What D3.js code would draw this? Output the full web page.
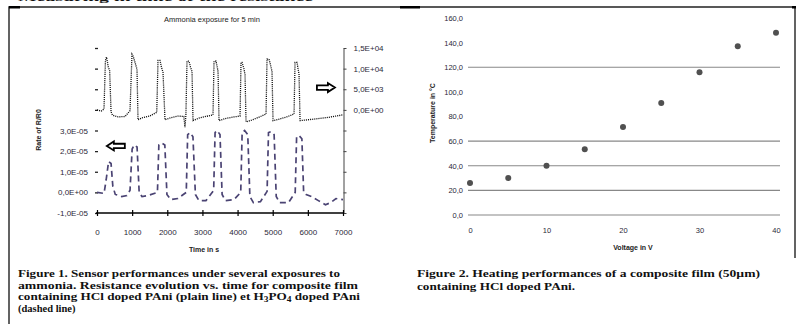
<!DOCTYPE html>
<html lang="en">
<head>
<meta charset="utf-8">
<title>Sensor and heating performances</title>
<script src="https://cdn.jsdelivr.net/npm/d3@7"></script>
<style>
  body { margin: 0; background: #fff; }
  svg { display: block; font-family: "Liberation Sans", sans-serif; }
  .tick text { font-size: 7.5px; fill: #2b2838; }
  .caption { font-family: "Liberation Serif", serif; font-weight: bold; font-size: 10.5px; fill: #111; }
  .atitle { font-size: 7px; font-weight: bold; fill: #222; }
</style>
</head>
<body>
<script>
// ---- Figure 1 data: time (s) vs value ----
// HCl doped PAni, right axis (plain line)
var hclSeries = [
  [0, 0], [120, -300], [199, 200], [240, 12000], [270, 12800], [300, 11500], [313, 10600], [360, 9500],
  [400, -500], [440, -1300], [600, -1700], [800, -1600], [939, -200],
  [996, 13500], [1030, 13000], [1100, 11000], [1138, 9800], [1167, -2400], [1300, -1900], [1500, -1500], [1700, -600],
  [1736, 12000], [1793, 12000], [1830, 10500], [1878, 9100], [1935, -2400], [2100, -1900], [2300, -1500], [2470, -1600], [2504, -4200], [2530, -1200],
  [2561, 11800], [2618, 11800], [2660, 10400], [2704, 9300], [2732, -2600], [2900, -2000], [3100, -1600], [3301, -1200],
  [3330, 11800], [3387, 11800], [3420, 10400], [3444, 9300], [3472, -2600], [3650, -2100], [3900, -1700], [4070, -1500],
  [4098, 11500], [4127, 11500], [4180, 10000], [4212, 8600], [4241, -2900], [4400, -2500], [4600, -1800], [4810, -1000],
  [4838, 12300], [4895, 12300], [4940, 10800], [4980, 9300], [5009, -2600], [5200, -2200], [5400, -1700], [5607, -1000],
  [5635, 11500], [5692, 11500], [5720, 10000], [5749, 8600], [5778, -2600], [6000, -2400], [6300, -2100], [6600, -1800],
  [6800, -1500], [7000, -1200]
];
// H3PO4 doped PAni, left axis (dashed line)
var h3po4Series = [
  [0, 0], [200, -0.05e-5], [260, 0.6e-5], [330, 1.5e-5], [400, 1.4e-5], [450, 0.3e-5], [520, -0.1e-5], [700, -0.2e-5], [850, -0.15e-5], [940, 0.1e-5],
  [1000, 2.1e-5], [1060, 2.3e-5], [1140, 2.2e-5], [1200, 0], [1280, -0.2e-5], [1450, -0.15e-5], [1720, 0],
  [1760, 2.3e-5], [1830, 2.4e-5], [1930, 2.3e-5], [1990, -0.1e-5], [2100, -0.35e-5], [2300, -0.3e-5], [2540, 0],
  [2580, 2.8e-5], [2650, 2.9e-5], [2730, 2.7e-5], [2800, -0.1e-5], [2900, -0.4e-5], [3100, -0.4e-5], [3320, 0.1e-5],
  [3360, 2.9e-5], [3420, 3.0e-5], [3500, 2.8e-5], [3560, -0.1e-5], [3650, -0.4e-5], [3900, -0.35e-5], [4090, 0],
  [4130, 2.9e-5], [4200, 3.0e-5], [4290, 2.8e-5], [4350, -0.2e-5], [4450, -0.5e-5], [4650, -0.45e-5], [4840, 0.05e-5],
  [4880, 2.9e-5], [4960, 2.95e-5], [5040, 2.8e-5], [5100, -0.2e-5], [5200, -0.5e-5], [5450, -0.5e-5], [5640, 0],
  [5680, 2.7e-5], [5750, 2.75e-5], [5830, 2.6e-5], [5880, 0], [5950, -0.1e-5], [6100, -0.2e-5], [6300, -0.4e-5],
  [6500, -0.6e-5], [6650, -0.5e-5], [6800, -0.3e-5], [7000, -0.35e-5]
];
var timeTicks = [0, 1000, 2000, 3000, 4000, 5000, 6000, 7000];
var leftTicks = [-1e-5, 0, 1e-5, 2e-5, 3e-5, 4e-5, 5e-5, 6e-5, 7e-5];
var leftTickLabels = ["-1,0E-05", "0,0E+00", "1,0E-05", "2,0E-05", "3,0E-05", "", "", "", ""];
var rightTicks = [-25000, -20000, -15000, -10000, -5000, 0, 5000, 10000, 15000];
var rightTickLabels = ["", "", "", "", "", "0,0E+00", "5,0E+03", "1,0E+04", "1,5E+04"];

// ---- Figure 2 data ----
var voltage = [0, 5, 10, 15, 20, 25, 30, 35, 40];
var temperature = [26, 30, 40, 53.5, 71.5, 91, 116, 137, 148];
var tempTicks = [0, 20, 40, 60, 80, 100, 120, 140, 160];
var tempGrid = [0, 20, 40, 60, 120];
var voltTicks = [0, 10, 20, 30, 40];

var svg = d3.select("body").append("svg")
  .attr("width", 800)
  .attr("height", 324);

// page frame and cut-off heading
svg.append("text").attr("class", "caption")
  .attr("x", 18).attr("y", 1)
  .style("font-size", "11px")
  .attr("textLength", 295).attr("lengthAdjust", "spacingAndGlyphs")
  .text("Measuring in time of the resistance");
svg.append("path")
  .attr("d", "M9,324V7H795V258")
  .attr("fill", "none").attr("stroke", "#222").attr("stroke-width", 1.4);
svg.append("rect").attr("x", 9).attr("y", 6).attr("width", 11).attr("height", 2.5).attr("fill", "#000");
svg.append("rect").attr("x", 400).attr("y", 6).attr("width", 20).attr("height", 2.5).attr("fill", "#000");
svg.append("rect").attr("x", 792).attr("y", 6).attr("width", 4).attr("height", 2.5).attr("fill", "#000");

// ================= Figure 1 =================
var xL = d3.scaleLinear().domain([0, 7000]).range([97, 343]);
var yL = d3.scaleLinear().domain([-1e-5, 7e-5]).range([213, 48]);
var yR = d3.scaleLinear().domain([-25000, 15000]).range([213, 48]);

svg.append("text")
  .attr("x", 212).attr("y", 22)
  .attr("text-anchor", "middle")
  .style("font-size", "7.5px").style("fill", "#222")
  .text("Ammonia exposure for 5 min");

var gl = svg.append("g")
  .attr("transform", "translate(98,0)")
  .call(d3.axisLeft(yL).tickValues(leftTicks)
    .tickFormat(function(d, i) { return leftTickLabels[i]; })
    .tickSize(3).tickPadding(7));
gl.select(".domain").remove();
gl.selectAll(".tick line").attr("stroke", "#222").attr("stroke-width", 1.3);
gl.selectAll(".tick text").style("font-size", "8px");

var gr = svg.append("g")
  .attr("transform", "translate(343.5,0)")
  .call(d3.axisRight(yR).tickValues(rightTicks)
    .tickFormat(function(d, i) { return rightTickLabels[i]; })
    .tickSizeInner(3).tickSizeOuter(0).tickPadding(7));
gr.select(".domain").attr("stroke", "#444");
gr.selectAll(".tick line").attr("stroke", "#444");
gr.selectAll(".tick text").style("font-size", "8px");

var gx = svg.append("g")
  .attr("transform", "translate(0,213)")
  .call(d3.axisBottom(xL).tickValues(timeTicks)
    .tickFormat(d3.format("d"))
    .tickSizeInner(3).tickSizeOuter(0).tickPadding(13));
gx.select(".domain").attr("stroke", "#000").attr("stroke-width", 1.6)
  .attr("d", "M96,0H344");
gx.selectAll(".tick line").attr("y1", -3).attr("stroke", "#000").attr("stroke-width", 1.2);
gx.selectAll(".tick text").style("font-size", "8px");

svg.append("text").attr("class", "atitle")
  .attr("x", 204).attr("y", 252).attr("text-anchor", "middle")
  .text("Time in s");
svg.append("text").attr("class", "atitle")
  .attr("transform", "translate(41,130) rotate(-90)")
  .attr("text-anchor", "middle")
  .text("Rate of R/R0");

var lineR = d3.line()
  .x(function(d) { return xL(d[0]); })
  .y(function(d) { return yR(d[1]); });
var lineL = d3.line()
  .x(function(d) { return xL(d[0]); })
  .y(function(d) { return yL(d[1]); });

svg.append("path").datum(h3po4Series)
  .attr("d", lineL)
  .attr("fill", "none")
  .attr("stroke", "#4a4373")
  .attr("stroke-width", 1.7)
  .attr("stroke-dasharray", "6,4");

svg.append("path").datum(hclSeries)
  .attr("d", lineR)
  .attr("fill", "none")
  .attr("stroke", "#111")
  .attr("stroke-width", 1.3)
  .attr("stroke-dasharray", "1.1,1");

// hollow arrows pointing to each axis
function arrow(tipX, tipY, dir) {
  var s = dir; // -1 points left, +1 points right
  var p = [[0, 0], [7, -4.5], [7, -2.2], [18, -2.2], [18, 2.2], [7, 2.2], [7, 4.5]];
  return "M" + p.map(function(q) { return (tipX - s * q[0]) + "," + (tipY + q[1]); }).join("L") + "Z";
}
svg.append("path")
  .attr("d", arrow(xL(280), yL(2.25e-5), -1))
  .attr("fill", "#fff").attr("stroke", "#000").attr("stroke-width", 1.8);
svg.append("path")
  .attr("d", arrow(xL(6770), yR(5400), 1))
  .attr("fill", "#fff").attr("stroke", "#000").attr("stroke-width", 1.8);

// ================= Figure 2 =================
var xV = d3.scaleLinear().domain([0, 40]).range([470, 776]);
var yT = d3.scaleLinear().domain([0, 160]).range([215, 18]);

svg.append("g").selectAll("line")
  .data(tempGrid)
  .enter()
  .append("line")
  .attr("x1", 468).attr("x2", 780)
  .attr("y1", function(d) { return yT(d); })
  .attr("y2", function(d) { return yT(d); })
  .attr("stroke", "#888").attr("stroke-width", 1.2);

var gy2 = svg.append("g")
  .attr("transform", "translate(469,0)")
  .call(d3.axisLeft(yT).tickValues(tempTicks)
    .tickFormat(function(d) { return d.toFixed(1).replace(".", ","); })
    .tickSize(0).tickPadding(6));
gy2.select(".domain").remove();

var gx2 = svg.append("g")
  .attr("transform", "translate(0,215)")
  .call(d3.axisBottom(xV).tickValues(voltTicks).tickSize(0).tickPadding(13));
gx2.select(".domain").remove();

svg.append("text").attr("class", "atitle")
  .attr("x", 633).attr("y", 250).attr("text-anchor", "middle")
  .text("Voltage in V");
svg.append("text").attr("class", "atitle")
  .attr("transform", "translate(435,113) rotate(-90)")
  .attr("text-anchor", "middle")
  .text("Temperature in °C");

svg.append("g").selectAll("circle")
  .data(voltage)
  .enter()
  .append("circle")
  .attr("cx", function(d) { return xV(d); })
  .attr("cy", function(d, i) { return yT(temperature[i]); })
  .attr("r", 3)
  .attr("fill", "#505050");

// ================= Captions =================
function caption(x, y, len, parts) {
  var t = svg.append("text").attr("class", "caption").attr("x", x).attr("y", y);
  if (len) t.attr("textLength", len).attr("lengthAdjust", "spacingAndGlyphs");
  parts.forEach(function(p) {
    var ts = t.append("tspan").text(p[0]);
    if (p[1]) ts.attr("dy", p[1]).style("font-size", p[2] || null);
  });
}
caption(18, 277, 322, [["Figure 1. Sensor performances under several exposures to"]]);
caption(18, 288.5, 340, [["ammonia. Resistance evolution vs. time for composite film"]]);
caption(18, 300, 342, [["containing HCl doped PAni (plain line) et H"], ["3", 2, "7.5px"], ["PO", -2, "10.5px"], ["4", 2, "7.5px"], [" doped PAni", -2, "10.5px"]]);
caption(18, 311.5, null, [["(dashed line)"]]);
caption(417, 277, 343, [["Figure 2. Heating performances of a composite film (50µm)"]]);
caption(417, 290, 158, [["containing HCl doped PAni."]]);
</script>
</body>
</html>
